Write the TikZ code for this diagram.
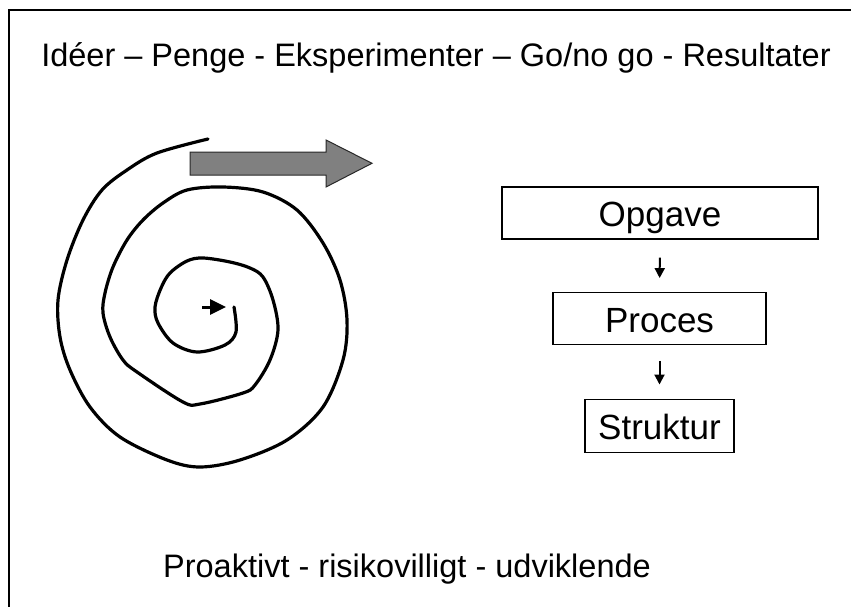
\documentclass[tikz,border=0pt]{standalone}
\usepackage{fontspec}
\setmainfont{Liberation Sans}
\usetikzlibrary{arrows.meta}
\begin{document}
\begin{tikzpicture}[x=1pt,y=-1pt,
  txt/.style={font=\fontsize{32.5}{36}\selectfont, inner sep=0pt},
  boxnode/.style={draw=black, line width=1.4pt, font=\fontsize{35}{38}\selectfont,
     inner sep=0pt, text height=27pt, text depth=0pt, align=center},
  flowarrow/.style={line width=2pt, -{Triangle[length=10pt,width=10pt]}},
  spiralline/.style={line width=3.2pt, line cap=round, line join=round}
]
\useasboundingbox (0,0) rectangle (851,607);
% frame (only top and left edges visible)
\draw[line width=1.5pt] (851,10) -- (9,10) -- (9,607);
% title
\node[txt, anchor=base] (title) at (436,67) {Idéer – Penge - Eksperimenter – Go/no go - Resultater};
% bottom text
\node[txt, anchor=base] (bottom) at (407,577) {Proaktivt - risikovilligt - udviklende};
% grey block arrow
\draw[fill={rgb,255:red,128;green,128;blue,128}, draw={rgb,255:red,40;green,40;blue,40}, line width=1pt]
  (190,152) -- (326,152) -- (326,140) -- (372,163.3) -- (326,187) -- (326,175) -- (190,175) -- cycle;
% spiral
\draw[spiralline] plot[smooth, tension=0.55] coordinates {
  (208,139) (157,153) (127,170) (102,190) (83,220) (67,260) (58,300) (60,337)
  (70,370) (90,407) (120,437) (167,460) (200,467) (240,460) (287,440) (323,407)
  (343,360) (347,320) (340,280) (323,243) (297,210) (263,192) (223,187) (187,190)
  (163,203) (143,220) (127,240) (113,267) (105,293) (103,313) (110,337) (123,360)
  (137,372) (183,402) (200,404) (243,393) (255,385) (270,360) (278,330) (273,300)
  (263,277) (250,268) (230,262) (203,258) (187,261) (170,273) (161,288) (155,307)
  (158,323) (173,343) (197,352) (225,345) (236,332) (234,307)};
% small arrow at the centre
\coordinate (sa) at (202,307);
\coordinate (sb) at (226,307);
\draw[line width=3pt, -{Triangle[length=16pt,width=15pt]}] (sa) -- (sb);
% boxes
\node[boxnode, minimum width=316pt, minimum height=52pt] (opg) at (660,213) {Opgave};
\node[boxnode, minimum width=213pt, minimum height=51.5pt] (pro) at (659.5,318.5) {Proces};
\node[boxnode, minimum width=149pt, minimum height=53pt] (str) at (659.5,425.7) {Struktur};
\draw[flowarrow, shorten <=18pt, shorten >=14pt] (opg.south) -- (pro.north);
\draw[flowarrow, shorten <=16pt, shorten >=14pt] (pro.south) -- (str.north);
\end{tikzpicture}
\end{document}
